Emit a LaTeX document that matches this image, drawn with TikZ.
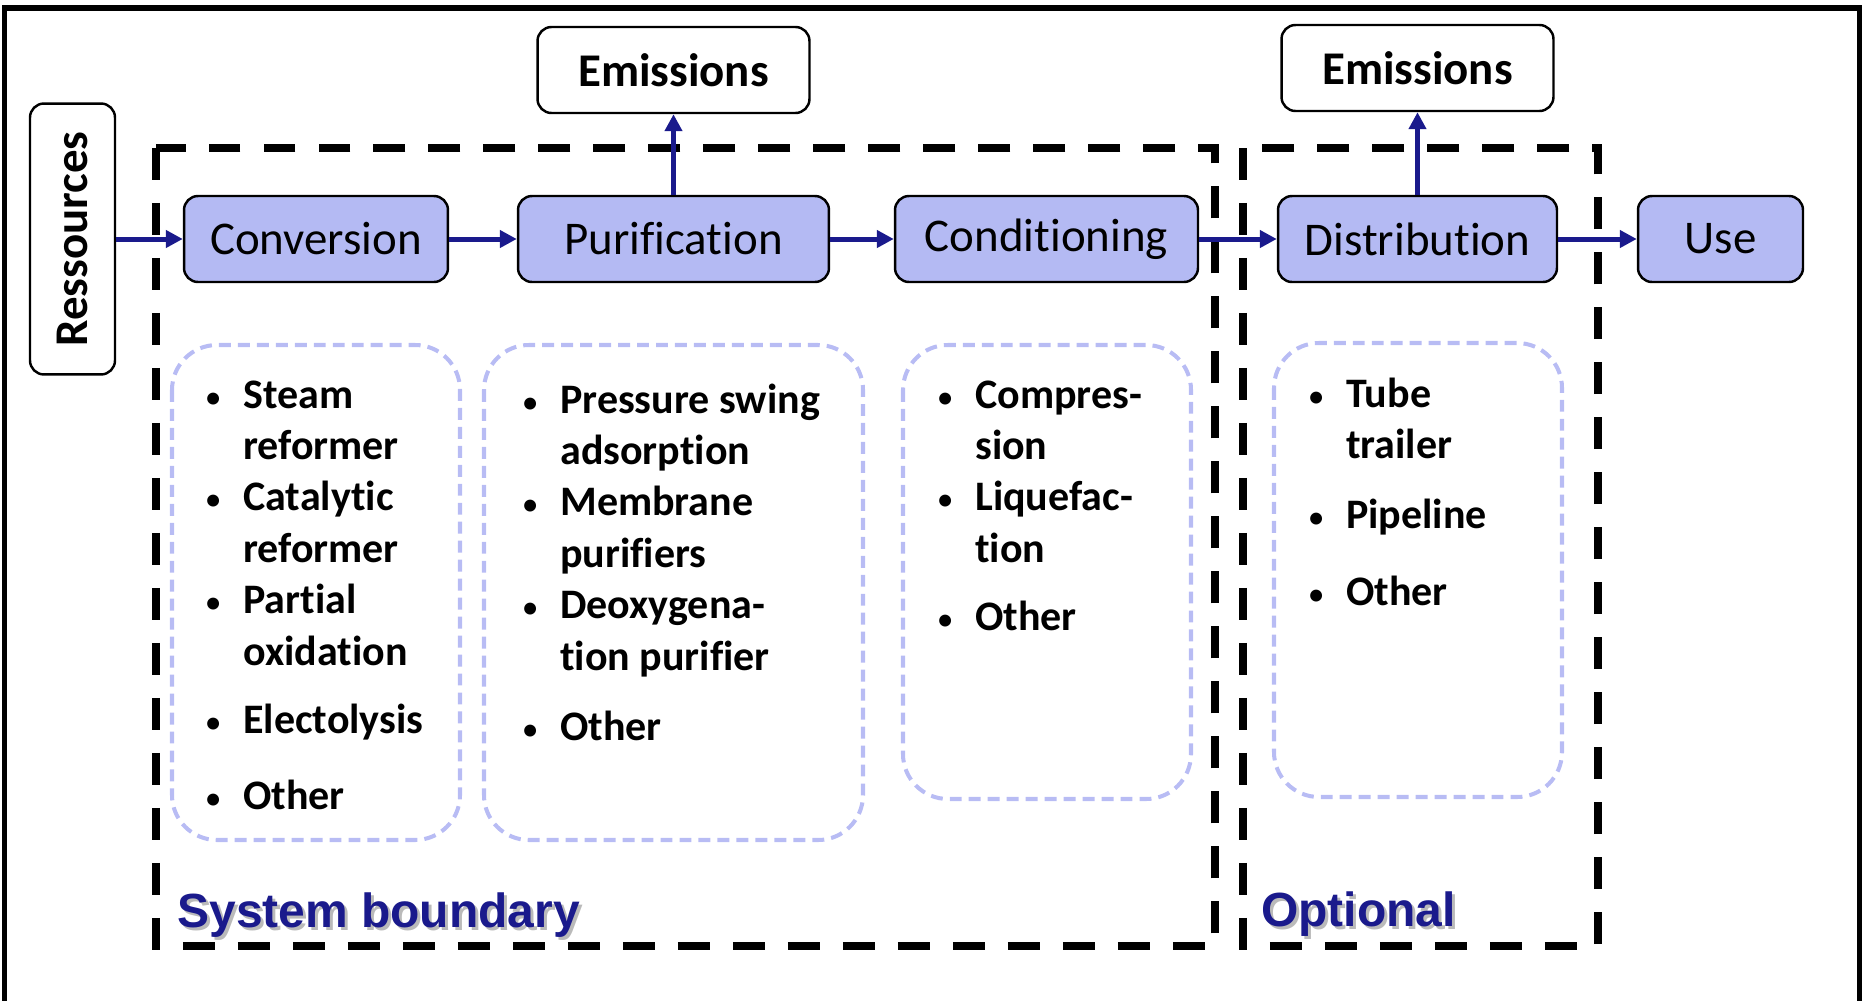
\documentclass[tikz,border=0pt]{standalone}
\usepackage{fontspec}
\setmainfont{Carlito}[Ligatures=NoCommon]
\newfontfamily\bndfont{Liberation Sans}
\usetikzlibrary{arrows.meta}
\tikzset{>={Triangle[length=9.6pt,width=9.6pt]}}
\definecolor{boxfill}{RGB}{180,186,243}
\definecolor{boxline}{RGB}{184,188,244}
\definecolor{flowblue}{RGB}{26,26,140}
\newcommand*{\bul}{\makebox[19.9pt][l]{\hspace{-2pt}\scalebox{0.8}{\mdseries\textbullet}}}
\tikzset{
    stage/.style={draw, line width=1.4pt, rounded corners=0.28cm, fill=boxfill, inner sep=0pt,
        minimum height=1.72cm, font=\fontsize{26.7}{32}\selectfont},
    outbox/.style={stage, fill=white, minimum width=5.44cm, font=\fontsize{26.7}{32}\selectfont\bfseries},
    flow/.style={->, flowblue, line width=2.85pt},
    boundary/.style={line width=4.55pt, dash pattern=on 18.2pt off 13.1pt},
    optbox/.style={boxline, line width=2.3pt, dash pattern=on 6.8pt off 4pt, rounded corners=0.9cm},
    items/.style={anchor=base west, inner sep=0pt, font=\fontsize{23.9}{29.3}\selectfont\bfseries},
    bndtext/.style={anchor=base west, inner sep=0pt, text=flowblue, font=\bndfont\bfseries\fontsize{27.3}{32}\selectfont},
}

\begin{document}
\begin{tikzpicture}[x=0.02cm, y=-0.02cm]
    \useasboundingbox (0,0) rectangle (1864,1001);
    \draw[line width=2.85pt] (4.5,1010)--(4.5,8)--(1859.5,8)--(1859.5,1010);
    % boundaries
    \draw[boundary](156,148)rectangle(1215,946);
    \draw[boundary](1243,148)rectangle(1598,946);
    \draw[optbox](172,345)rectangle(460,840);
    \draw[optbox](484,345)rectangle(863,840);
    \draw[optbox](903,345)rectangle(1191,799);
    \draw[optbox](1274,343)rectangle(1562,797);
    % chain
    \node[stage, fill=white, minimum width=1.7cm, minimum height=5.42cm, font=\fontsize{26.7}{32}\selectfont\bfseries]
        (ressources) at (72.5,239) {\rotatebox{90}{Ressources}};
    \node[stage, minimum width=5.28cm] (conversion) at (316,239) {Conversion};
    \node[stage, minimum width=6.22cm] (purification) at (673.5,239) {Purification};
    \node[stage, minimum width=6.06cm] (conditioning) at (1046.5,239) {Conditioning};
    \node[stage, minimum width=5.58cm] (distribution) at (1417.5,239) {Distribution};
    \node[stage, minimum width=3.3cm] (use) at (1720.5,239) {Use};
    \node[outbox] (emisA) at (673.5,70) {Emissions};
    \node[outbox] (emisB) at (1417.5,68) {Emissions};
    \draw[flow](ressources)--(conversion);
    \draw[flow](conversion)--(purification);
    \draw[flow](purification)--(conditioning);
    \draw[flow](conditioning)--(distribution);
    \draw[flow](distribution)--(use);
    \draw[flow](purification)--(emisA);
    \draw[flow](distribution)--(emisB);
    % lists
    \node[items] (convitems) at (208,408) {\begin{tabular}[t]{@{}l@{}l@{}}
        \bul & Steam\\ & reformer\\ \bul & Catalytic\\ & reformer\\ \bul & Partial\\ & oxidation\\[9.4pt]
        \bul & Electolysis\\[14.3pt] \bul & Other\end{tabular}};
    \node[items] (puritems) at (525,413) {\begin{tabular}[t]{@{}l@{}l@{}}
        \bul & Pressure swing\\ & adsorption\\ \bul & Membrane\\ & purifiers\\ \bul & Deoxygena-\\ & tion purifier\\[10.8pt]
        \bul & Other\end{tabular}};
    \node[items] (conditems) at (940,408) {\begin{tabular}[t]{@{}l@{}l@{}}
        \bul & Compres-\\ & sion\\ \bul & Liquefac-\\ & tion\\[9.4pt] \bul & Other\end{tabular}};
    \node[items] (distitems) at (1311,407) {\begin{tabular}[t]{@{}l@{}l@{}}
        \bul & Tube\\ & trailer\\[10.8pt] \bul & Pipeline\\[14pt] \bul & Other\end{tabular}};
    % boundary labels
    \node[bndtext, text=black!45, opacity=0.6] (sysshadow) at (180,930) {System boundary};
    \node[bndtext] (sysb) at (177,927) {System boundary};
    \node[bndtext, text=black!45, opacity=0.6] (optshadow) at (1264,929) {Optional};
    \node[bndtext] (optional) at (1261,926) {Optional};
\end{tikzpicture}
\end{document}
